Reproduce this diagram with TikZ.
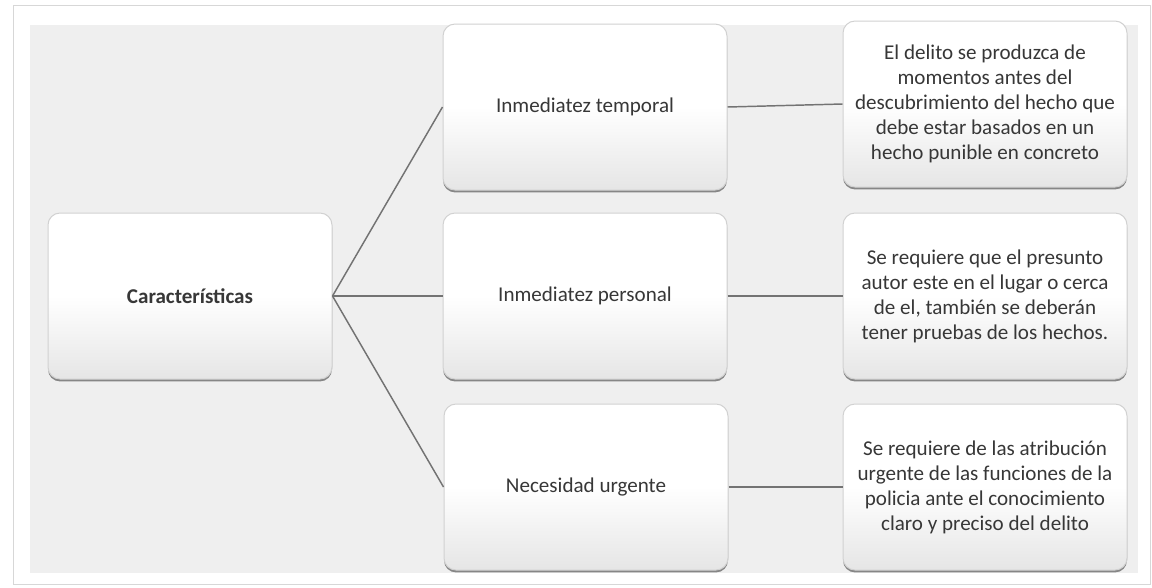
\documentclass[tikz,border=0pt]{standalone}
\usepackage{fontspec}
\setmainfont{Carlito}
\usetikzlibrary{shadows}

\definecolor{fondo}{RGB}{239,239,239}
\definecolor{marco}{RGB}{215,215,215}
\definecolor{texto}{RGB}{55,55,55}
\definecolor{linea}{RGB}{115,115,115}

\tikzset{every picture/.style={line width=0.75pt}}
\tikzset{
  caja/.style={draw=black!18, rounded corners=9pt, top color=white, bottom color=black!10, middle color=white,
    drop shadow={shadow xshift=0pt, shadow yshift=-1.8pt, fill=black!75, opacity=0.6},
    minimum width=213pt, minimum height=124.5pt, inner sep=0pt, align=center, text=texto,
    font=\fontsize{15.8}{18.75}\selectfont},
  conector/.style={draw=linea, line width=1.1pt}
}

\begin{document}
\begin{tikzpicture}[x=0.75pt,y=0.75pt,yscale=-1,xscale=1]
\useasboundingbox (0,0) rectangle (1152,587);
% Frame and background
\draw[marco, fill=white] (13,5) rectangle (1150,584);
\fill[fondo] (30,25) rectangle (1138,573);

% Root
\node[caja] (car) at (190,296) {\textbf{Características}};

% Middle column
\node[caja] (temp) at (585,107) {Inmediatez temporal};
\node[caja] (pers) at (585,296) {Inmediatez personal};
\node[caja] (nec) at (586,487) {Necesidad urgente};

% Right column
\node[caja] (dtemp) at (985,104) {El delito se produzca de\\momentos antes del\\descubrimiento del hecho que\\debe estar basados en un\\hecho punible en concreto};
\node[caja] (dpers) at (985,296) {Se requiere que el presunto\\autor este en el lugar o cerca\\de el, también se deberán\\tener pruebas de los hechos.};
\node[caja] (dnec) at (985,487) {Se requiere de las atribución\\urgente de las funciones de la\\policia ante el conocimiento\\claro y preciso del delito};

% Connectors
\draw[conector] (car.east) -- (temp.west);
\draw[conector] (car.east) -- (pers.west);
\draw[conector] (car.east) -- (nec.west);
\draw[conector] (temp.east) -- (dtemp.west);
\draw[conector] (pers.east) -- (dpers.west);
\draw[conector] (nec.east) -- (dnec.west);
\end{tikzpicture}
\end{document}
